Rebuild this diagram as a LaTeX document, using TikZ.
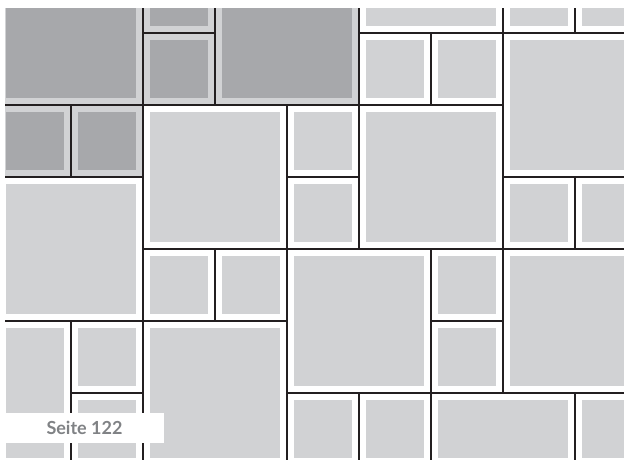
\documentclass[tikz,border=0pt]{standalone}
\usepackage{fontspec}
\setmainfont{Lato}
\definecolor{lineC}{HTML}{231F20}
\definecolor{darkfill}{HTML}{A7A8AB}
\definecolor{lightfill}{HTML}{D1D2D4}
\definecolor{labelC}{HTML}{808285}
\tikzset{
  dborder/.style={fill=lightfill},
  dinner/.style={fill=darkfill},
  lborder/.style={fill=white},
  linner/.style={fill=lightfill},
  gridline/.style={draw=lineC, line width=2.6pt},
  labelbox/.style={fill=white, inner sep=0pt, minimum width=159pt, minimum height=30pt,
    text=labelC, font=\fontsize{18}{18}\selectfont\bfseries}
}
\begin{document}
\begin{tikzpicture}[x=1pt,y=1pt]
\useasboundingbox (0,0) rectangle (624,459);
\fill[white] (0,0) rectangle (624,459);
\begin{scope}
\clip (5,0) rectangle (624,450);
\begin{scope}[x=72pt,y=-72pt,shift={(-1pt,498pt)}]
\def\tiles{d/0/0/2/2, d/2/0/3/1, d/2/1/3/2, d/3/0/5/2, l/5/0/7/1, l/7/0/8/1, l/8/0/9/1,
  l/5/1/6/2, l/6/1/7/2, l/7/1/9/3,
  d/0/2/1/3, d/1/2/2/3, l/2/2/4/4, l/4/2/5/3, l/5/2/7/4,
  l/4/3/5/4, l/7/3/8/4, l/8/3/9/4, l/0/3/2/5,
  l/2/4/3/5, l/3/4/4/5, l/4/4/6/6, l/6/4/7/5, l/7/4/9/6,
  l/0/5/1/7, l/1/5/2/6, l/2/5/4/7, l/6/5/7/6,
  l/1/6/2/7, l/4/6/5/7, l/5/6/6/7, l/6/6/8/7, l/8/6/9/7}
\foreach \k/\a/\b/\c/\d in \tiles {
  \path[\k border] (\a,\b) rectangle (\c,\d);
  \path[\k inner] ([xshift=7pt,yshift=-7pt]\a,\b) rectangle ([xshift=-7pt,yshift=7pt]\c,\d);
}
\foreach \k/\a/\b/\c/\d in \tiles {
  \path[gridline] (\a,\b) rectangle (\c,\d);
}
\end{scope}
\end{scope}
\node[labelbox] (label) at (84.5,31) {Seite 122};
\end{tikzpicture}
\end{document}
